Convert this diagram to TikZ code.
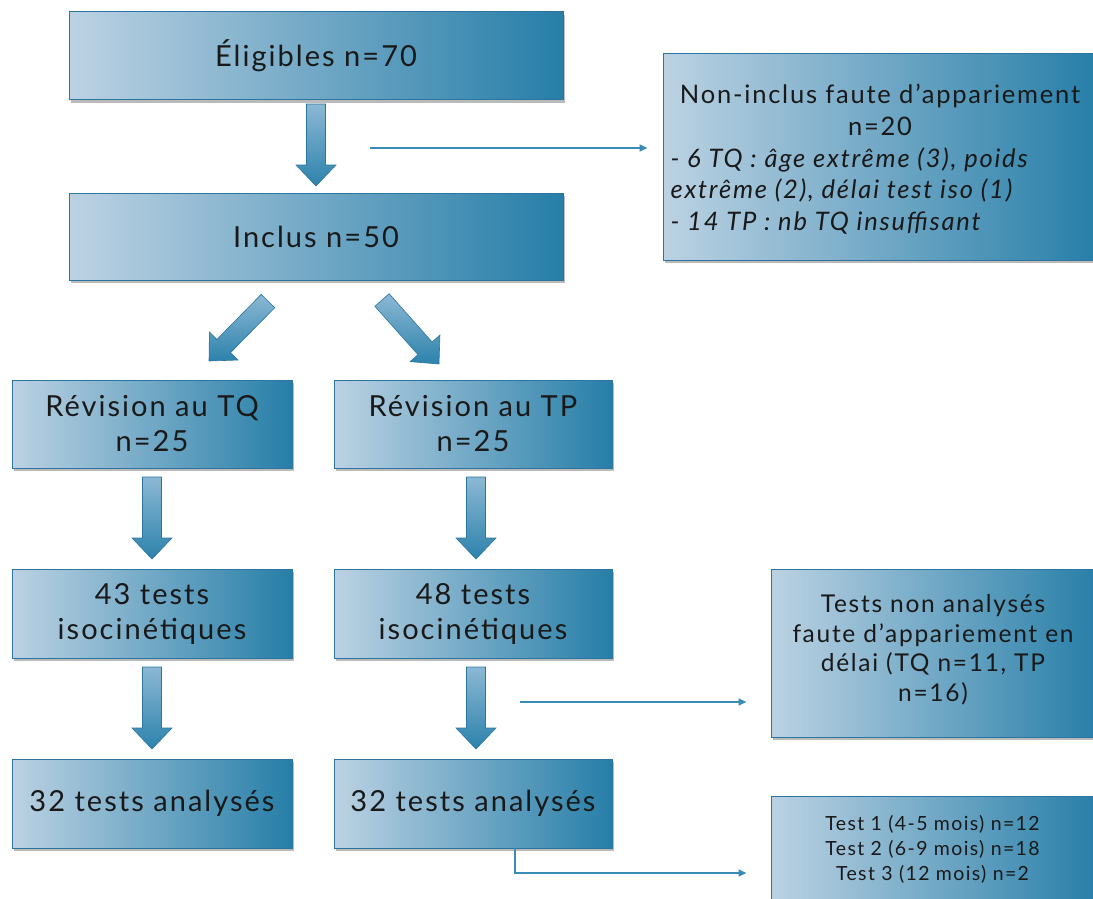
\documentclass[tikz,border=0pt]{standalone}
\usepackage{fontspec}
\setmainfont{Lato}[LetterSpace=7]
\usetikzlibrary{shadows,calc,arrows.meta}
\definecolor{boxL}{RGB}{188,210,227}
\definecolor{boxM}{RGB}{108,160,196}
\definecolor{boxR}{RGB}{38,126,168}
\definecolor{edgeC}{RGB}{42,118,160}
\definecolor{lineC}{RGB}{58,140,182}
\definecolor{arrL}{RGB}{140,184,212}
\definecolor{arrD}{RGB}{44,130,172}
\definecolor{txt}{RGB}{25,25,25}
\tikzset{
  box/.style={draw=edgeC, line width=1pt, left color=boxL, middle color=boxM, right color=boxR,
    drop shadow={shadow xshift=2pt, shadow yshift=-3pt, opacity=0.45, fill=black!60},
    inner sep=2pt, align=center, text=txt},
  bigtext/.style={font=\fontsize{29}{35}\selectfont},
  midtext/.style={font=\fontsize{25.5}{31.5}\selectfont},
  nantext/.style={font=\fontsize{24.5}{29.5}\selectfont},
  smalltext/.style={font=\fontsize{19.5}{25}\selectfont},
  barrowstyle/.style={top color=arrL, bottom color=arrD, draw=edgeC, line width=0.6pt},
  thinarrow/.style={draw=lineC, line width=2pt, -{Triangle[length=8pt,width=7pt]}}
}
\newcommand\blockarr[2]{%
  \coordinate (h-#1) at ($(#2)!21pt!(#1)$);
  \path[barrowstyle] ($(#1)!9.5pt!90:(#2)$) -- ($(h-#1)!9.5pt!90:(#2)$) -- ($(h-#1)!20pt!90:(#2)$)
    -- (#2) -- ($(h-#1)!20pt!-90:(#2)$) -- ($(h-#1)!9.5pt!-90:(#2)$) -- ($(#1)!9.5pt!-90:(#2)$) -- cycle;
}
\begin{document}
\begin{tikzpicture}[x=1pt,y=-1pt]
\useasboundingbox (0,0) rectangle (1093,899);

% main boxes
\node[box,bigtext,minimum width=494pt,minimum height=88pt] (elig) at (316,56) {Éligibles n=70};
\node[box,bigtext,minimum width=494pt,minimum height=87pt] (incl) at (316,236.5) {Inclus n=50};
\node[box,minimum width=437pt,minimum height=206pt] (nonincl) at (881.5,157) {};
\node[midtext,text=txt,align=center] (nitit) at (880,110) {Non-inclus faute d’appariement\\n=20};
\node[midtext,text=txt,align=left,anchor=west] (nidet) at (667,191) {\itshape - 6 TQ : âge extrême (3), poids\\\itshape extrême (2), délai test iso (1)\\\itshape - 14 TP : nb TQ insuffisant};

\node[box,bigtext,minimum width=280pt,minimum height=88pt] (revtq) at (152,424) {Révision au TQ\\n=25};
\node[box,bigtext,minimum width=278pt,minimum height=88pt] (revtp) at (473,424) {Révision au TP\\n=25};
\node[box,bigtext,minimum width=280pt,minimum height=89pt] (t43) at (152,613.5) {43 tests\\isocinétiques};
\node[box,bigtext,minimum width=278pt,minimum height=89pt] (t48) at (473,613.5) {48 tests\\isocinétiques};
\node[box,bigtext,minimum width=280pt,minimum height=89pt] (a32l) at (152,803.5) {32 tests analysés};
\node[box,bigtext,minimum width=278pt,minimum height=89pt] (a32r) at (473,803.5) {32 tests analysés};

\node[box,minimum width=330pt,minimum height=168pt] (nonan) at (936,653) {};
\node[nantext,text=txt,align=center] (nonantxt) at (933,650) {Tests non analysés\\faute d’appariement en\\délai (TQ n=11, TP\\n=16)};
\node[box,minimum width=330pt,minimum height=112pt] (tbox) at (936,852) {};
\node[smalltext,text=txt,align=center] (ttxt) at (932.5,849) {Test 1 (4-5 mois) n=12\\Test 2 (6-9 mois) n=18\\Test 3 (12 mois) n=2};

% block arrows
\coordinate (d1a) at (316,104); \coordinate (d1b) at (316,186);
\blockarr{d1a}{d1b}
\coordinate (dla) at (268,301); \coordinate (dlb) at (209,361);
\blockarr{dla}{dlb}
\coordinate (dra) at (382,300); \coordinate (drb) at (439,364);
\blockarr{dra}{drb}
\coordinate (d2a) at (152,477); \coordinate (d2b) at (152,559);
\blockarr{d2a}{d2b}
\coordinate (d3a) at (476,477); \coordinate (d3b) at (476,559);
\blockarr{d3a}{d3b}
\coordinate (d4a) at (152,667); \coordinate (d4b) at (152,749);
\blockarr{d4a}{d4b}
\coordinate (d5a) at (476,667); \coordinate (d5b) at (476,749);
\blockarr{d5a}{d5b}

% thin arrows
\coordinate (s1) at (370,148);
\draw[thinarrow, shorten >=15pt] (s1) -- (s1 -| nonincl.west);
\coordinate (s2) at (520,702);
\draw[thinarrow, shorten >=24pt] (s2) -- (s2 -| nonan.west);
\coordinate (s3) at (515,848);
\coordinate (s3b) at (515,873);
\draw[thinarrow, shorten >=24pt] (s3) -- (s3b) -- (s3b -| tbox.west);
\end{tikzpicture}
\end{document}
